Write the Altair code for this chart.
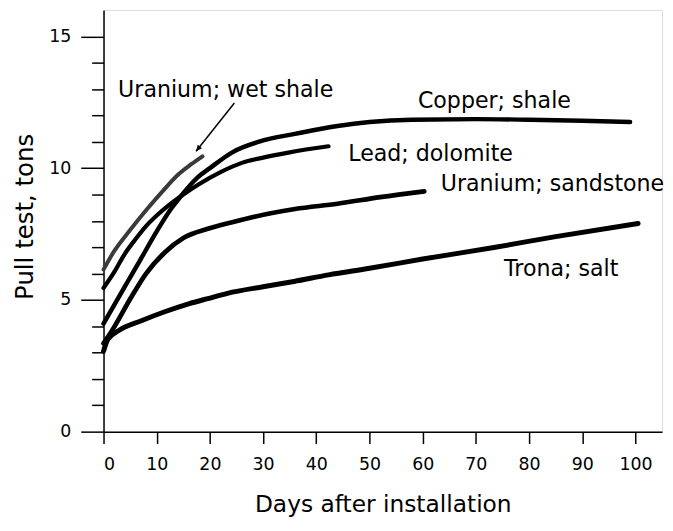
import altair as alt
import pandas as pd

# ---- data ----
series_names = ["Uranium; wet shale", "Lead; dolomite", "Copper; shale",
                "Uranium; sandstone", "Trona; salt"]

wet_days = [0, 2, 5, 8, 11, 14, 16.5, 18.6]
wet_pull = [6.15, 6.85, 7.65, 8.4, 9.1, 9.75, 10.15, 10.45]

lead_days = [0, 2, 4, 6, 8, 10, 12, 15, 18, 22, 26, 30, 35, 42.3]
lead_pull = [5.45, 6.05, 6.75, 7.3, 7.8, 8.2, 8.55, 9.0, 9.4, 9.85, 10.2, 10.4, 10.6, 10.83]

copper_days = [0, 4, 7, 10, 12.7, 14, 17.7, 20, 24.2, 30, 36, 44, 50, 58, 70, 80, 90, 99]
copper_pull = [4.1, 5.5, 6.55, 7.6, 8.46, 8.8, 9.65, 10.0, 10.6, 11.05, 11.3, 11.6, 11.75,
               11.84, 11.86, 11.84, 11.8, 11.75]

sand_days = [0, 1.5, 5.2, 8, 11.5, 15, 19.6, 24.2, 30.5, 36, 44, 52, 60.3]
sand_pull = [3.35, 3.8, 5.1, 6.0, 6.8, 7.35, 7.7, 7.95, 8.25, 8.45, 8.65, 8.9, 9.12]

trona_days = [0, 0.8, 2.8, 7, 11.5, 16, 19.6, 23.3, 30, 35.8, 42.3, 50, 60, 73.4, 85, 100.5]
trona_pull = [3.05, 3.5, 3.83, 4.2, 4.55, 4.85, 5.05, 5.25, 5.5, 5.7, 5.95, 6.2, 6.55,
              6.99, 7.4, 7.9]

# annotation text and positions (data units)
label_text = ["Uranium; wet shale", "Copper; shale", "Lead; dolomite",
              "Uranium; sandstone", "Trona; salt"]
label_x = [2.74, 59.1, 46.0, 63.4, 75.3]
label_y = [12.70, 12.29, 10.26, 9.13, 5.89]

arrow_x = [24.6, 17.4]
arrow_y = [12.47, 10.64]

x_ticks = list(range(0, 101, 10))
y_major = [0, 5, 10, 15]
y_minor = [v for v in range(0, 16) if v % 5 != 0]

series_colors = ["#3a3a3a", "#000000", "#000000", "#000000", "#000000"]
series_widths = [4, 5, 7, 5, 6]

# ---- build tables ----
rows = []
for name, d, p in zip(series_names,
                      [wet_days, lead_days, copper_days, sand_days, trona_days],
                      [wet_pull, lead_pull, copper_pull, sand_pull, trona_pull]):
    for i, (a, b) in enumerate(zip(d, p)):
        rows.append({"series": name, "days": a, "pull": b, "order": i})
df = pd.DataFrame(rows)

labels_df = pd.DataFrame({"text": label_text, "days": label_x, "pull": label_y})
arrow_df = pd.DataFrame({"days": arrow_x, "pull": arrow_y, "order": [0, 1]})
head_df = arrow_df.iloc[[1]]

FONT = "DejaVu Sans"

x_scale = alt.Scale(domain=[0, 105], nice=False, zero=False)
y_scale = alt.Scale(domain=[0, 16], nice=False)

x_axis = alt.Axis(
    values=x_ticks, tickSize=12, tickWidth=1.5, tickColor="black",
    domainColor="black", domainWidth=1.5, grid=False, labelOverlap=False,
    labelFont=FONT, labelFontSize=17.5, labelPadding=12.5, labelColor="black",
    title="Days after installation", titleFont=FONT, titleFontSize=23.5,
    titleFontWeight="normal", titleColor="black", titleBaseline="alphabetic",
    titleY=81,
)
y_axis_major = alt.Axis(
    values=y_major, tickSize=23, tickWidth=1.5, tickColor="black",
    domainColor="black", domainWidth=1.5, grid=False, labelOverlap=False,
    labelFlush=False,
    labelFont=FONT, labelFontSize=17.5, labelPadding=10, labelColor="black",
    title="Pull test, tons", titleFont=FONT, titleFontSize=24.6,
    titleFontWeight="normal", titleColor="black", titleBaseline="alphabetic",
    titleAngle=270, titleX=-71.3, titleY=208,
)
y_axis_minor = alt.Axis(
    values=y_minor, tickSize=12, tickWidth=1.5, tickColor="black",
    domain=False, grid=False, labels=False, title=None, orient="left",
)

lines = alt.Chart(df).mark_line(interpolate="monotone", strokeCap="round").encode(
    x=alt.X("days:Q", scale=x_scale, axis=x_axis),
    y=alt.Y("pull:Q", scale=y_scale, axis=y_axis_major),
    color=alt.Color("series:N", scale=alt.Scale(domain=series_names, range=series_colors),
                    legend=None),
    strokeWidth=alt.StrokeWidth("series:N",
                                scale=alt.Scale(domain=series_names, range=series_widths),
                                legend=None),
    order="order:Q",
)

texts = alt.Chart(labels_df).mark_text(
    align="left", baseline="alphabetic", font=FONT, fontSize=22.3, color="black"
).encode(
    x=alt.X("days:Q", scale=x_scale, axis=None),
    y=alt.Y("pull:Q", scale=y_scale, axis=y_axis_minor),
    text="text:N",
)

arrow_line = alt.Chart(arrow_df).mark_line(color="black", strokeWidth=1.5).encode(
    x=alt.X("days:Q", scale=x_scale, axis=None),
    y=alt.Y("pull:Q", scale=y_scale, axis=None),
    order="order:Q")

arrow_head = alt.Chart(head_df).mark_point(
    shape="M0,0L-0.45,1L0.45,1Z", filled=True, color="black", size=150,
    angle=218.4, opacity=1
).encode(
    x=alt.X("days:Q", scale=x_scale, axis=None),
    y=alt.Y("pull:Q", scale=y_scale, axis=None),
)

chart = alt.layer(lines, texts, arrow_line, arrow_head).resolve_axis(
    y="independent", x="independent"
).properties(
    width=563, height=425,
    padding={"left": 4.3, "top": 0, "right": 0, "bottom": 0},
).configure_view(stroke=None).configure(background="white")

chart.save("out.html", embed_options={"renderer": "svg", "actions": False})
